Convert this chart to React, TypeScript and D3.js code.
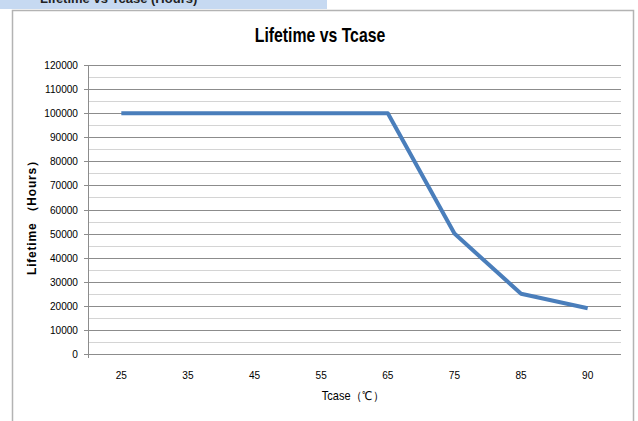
import React from "react";
import * as d3 from "d3";

const categories: string[] = ["25", "35", "45", "55", "65", "75", "85", "90"];
const lifetime: number[] = [100000, 100000, 100000, 100000, 100000, 50000, 25000, 19000];
const yMajorTicks: number[] = [0, 10000, 20000, 30000, 40000, 50000, 60000, 70000, 80000, 90000, 100000, 110000, 120000];
const yMinorTicks: number[] = [5000, 15000, 25000, 35000, 45000, 55000, 65000, 75000, 85000, 95000, 105000, 115000];

const W = 638;
const H = 421;
const SANS = "'Liberation Sans', Arial, sans-serif";

export default function App() {
  const x = d3.scaleBand<string>().domain(categories).range([88, 621]);
  const y = d3.scaleLinear().domain([0, 120000]).range([354, 65]);
  const cx = (c: string) => (x(c) as number) + x.bandwidth() / 2;
  const line = d3
    .line<number>()
    .x((_, i) => cx(categories[i]))
    .y((d) => y(d));

  return (
    <svg
      width={W}
      height={H}
      style={{ position: "absolute", left: 0, top: 0, background: "#fff" }}
    >
      <defs>
        <clipPath id="band">
          <rect x={0} y={0} width={327} height={9} />
        </clipPath>
      </defs>
      {/* top highlighted band with cut-off heading */}
      <rect x={0} y={0} width={327} height={9} fill="#c6d9f1" />
      <g clipPath="url(#band)">
        <text x={40} y={3} fontFamily={SANS} fontWeight="bold" fontSize={13} fill="#222">
          Lifetime vs Tcase (Hours)
        </text>
      </g>
      {/* chart frame */}
      <path d={`M12.5,${H} V10.5 H633.5 V${H}`} fill="none" stroke="#b3b3b3" strokeWidth={1.5} />

      {/* title */}
      <text
        transform="translate(320,42) scale(0.79,1)"
        textAnchor="middle"
        fontFamily={SANS}
        fontWeight="bold"
        fontSize={20}
        fill="#000"
      >
        Lifetime vs Tcase
      </text>

      {/* minor gridlines */}
      {yMinorTicks.map((t) => (
        <line key={"mn" + t} x1={88} x2={621} y1={Math.round(y(t)) + 0.5} y2={Math.round(y(t)) + 0.5} stroke="#d4d4d4" strokeWidth={1} />
      ))}
      {/* major gridlines */}
      {yMajorTicks.map((t) => (
        <g key={"mj" + t}>
          <line x1={84} x2={621} y1={Math.round(y(t)) + 0.5} y2={Math.round(y(t)) + 0.5} stroke="#8c8c8c" strokeWidth={1} />
          <text
            transform={`translate(78,${y(t) + 4}) scale(0.92,1)`}
            textAnchor="end"
            fontFamily={SANS}
            fontSize={11}
            fill="#000"
          >
            {t}
          </text>
        </g>
      ))}
      {/* y axis */}
      <line x1={88.5} x2={88.5} y1={65} y2={358} stroke="#8c8c8c" strokeWidth={1} />

      {/* x labels */}
      {categories.map((c) => (
        <text
          key={c}
          transform={`translate(${cx(c)},379) scale(0.92,1)`}
          textAnchor="middle"
          fontFamily={SANS}
          fontSize={11}
          fill="#000"
        >
          {c}
        </text>
      ))}

      {/* data line */}
      <path d={line(lifetime) || ""} fill="none" stroke="#4a7ebb" strokeWidth={4} strokeLinejoin="round" />

      {/* axis titles */}
      <text
        transform="translate(353,400) scale(0.92,1)"
        textAnchor="middle"
        fontFamily={SANS}
        fontSize={12}
        fill="#000"
      >
        Tcase（℃）
      </text>
      <text
        transform="translate(36,215) rotate(-90)"
        textAnchor="middle"
        fontFamily={SANS}
        fontWeight="bold"
        fontSize={12}
        fill="#000"
        textLength={120}
        lengthAdjust="spacing"
      >
        Lifetime （Hours）
      </text>
    </svg>
  );
}
